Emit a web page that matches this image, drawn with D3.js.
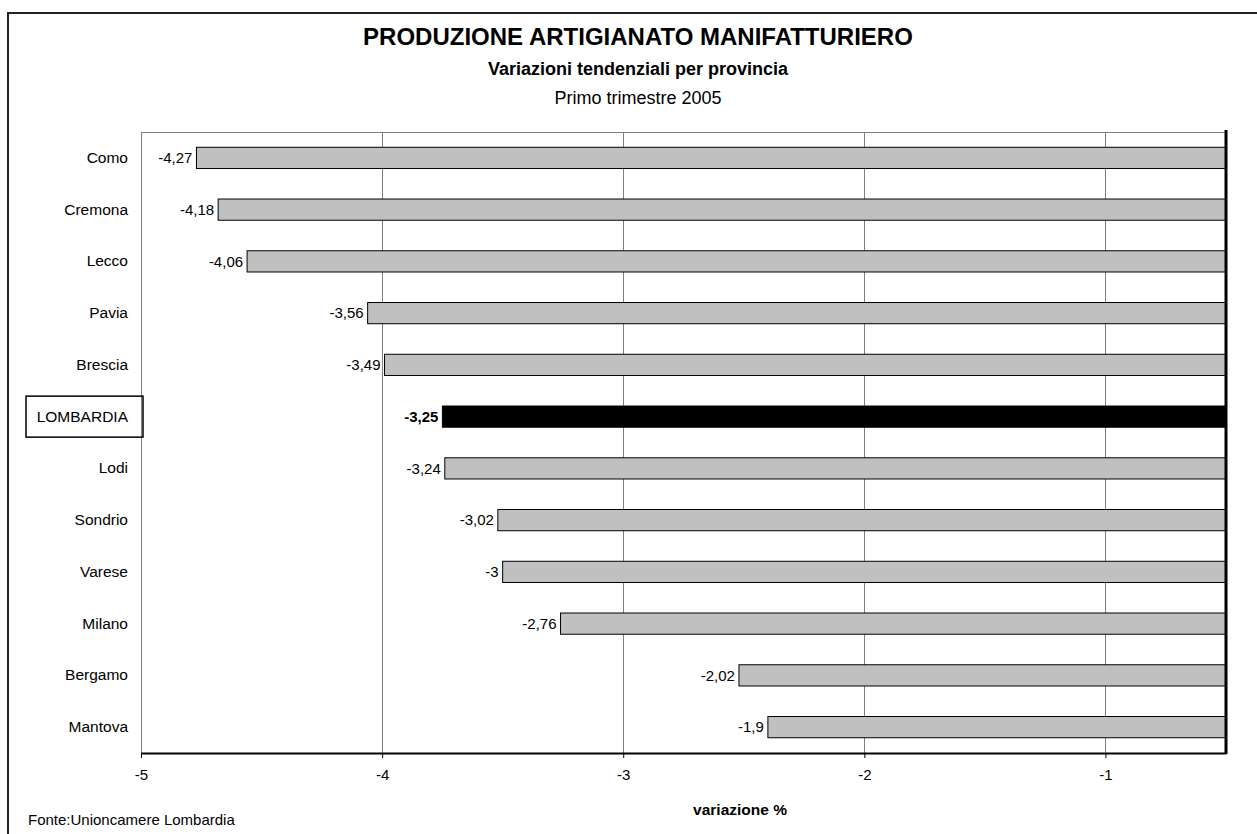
<!DOCTYPE html>
<html>
<head>
<meta charset="utf-8">
<script src="https://cdn.jsdelivr.net/npm/d3@7"></script>
<style>
  body { margin: 0; background: #fff; }
  svg { display: block; font-family: "Liberation Sans", Arial, sans-serif; }
</style>
</head>
<body>
<div id="grafico"></div>
<script>
// Province (dall'alto verso il basso) e variazioni %
const province = ['Como', 'Cremona', 'Lecco', 'Pavia', 'Brescia', 'LOMBARDIA', 'Lodi', 'Sondrio', 'Varese', 'Milano', 'Bergamo', 'Mantova'];
const variazioni = [-4.27, -4.18, -4.06, -3.56, -3.49, -3.25, -3.24, -3.02, -3, -2.76, -2.02, -1.9];
// Tick dell'asse x: nell'originale i valori -4.5 ... -0.5 sono arrotondati a intero
const tickValori = [-4.5, -3.5, -2.5, -1.5, -0.5];
const tickEtichette = ['-5', '-4', '-3', '-2', '-1'];
const totale = 'LOMBARDIA';

const width = 1257;
const height = 834;
const margin = {top: 132, right: 31, bottom: 81, left: 141};
const font = '"Liberation Sans", Arial, sans-serif';

const svg = d3.select('#grafico')
  .append('svg')
  .attr('width', width)
  .attr('height', height);

// cornice esterna
svg.append('rect')
  .attr('x', 8).attr('y', 13)
  .attr('width', width + 20).attr('height', height + 20)
  .attr('fill', 'none')
  .attr('stroke', '#222')
  .attr('stroke-width', 2);

// titoli
const titoli = svg.append('g').attr('text-anchor', 'middle');
titoli.append('text').attr('x', 638).attr('y', 45)
  .attr('font-size', 24).attr('font-weight', 'bold')
  .text('PRODUZIONE ARTIGIANATO MANIFATTURIERO');
titoli.append('text').attr('x', 638).attr('y', 75)
  .attr('font-size', 18).attr('font-weight', 'bold')
  .text('Variazioni tendenziali per provincia');
titoli.append('text').attr('x', 638).attr('y', 104)
  .attr('font-size', 18)
  .text('Primo trimestre 2005');

const x = d3.scaleLinear()
  .domain([-4.5, 0])
  .range([margin.left, width - margin.right]);

const y = d3.scaleBand()
  .domain(province)
  .range([margin.top, height - margin.bottom])
  .paddingInner(0.59)
  .paddingOuter(0.295);

const dati = province.map((p, i) => ({provincia: p, valore: variazioni[i]}));

// bordo area del grafico (sopra) e griglia
svg.append('line')
  .attr('x1', x(-4.5)).attr('x2', x(0))
  .attr('y1', margin.top + 0.5).attr('y2', margin.top + 0.5)
  .attr('stroke', '#808080');
svg.append('g')
  .selectAll('line')
  .data(tickValori)
  .enter()
  .append('line')
  .attr('x1', d => Math.round(x(d)) + 0.5)
  .attr('x2', d => Math.round(x(d)) + 0.5)
  .attr('y1', margin.top)
  .attr('y2', height - margin.bottom)
  .attr('stroke', '#808080');

// barre
svg.append('g')
  .selectAll('rect')
  .data(dati)
  .enter()
  .append('rect')
  .attr('x', d => x(d.valore))
  .attr('y', d => y(d.provincia))
  .attr('width', d => x(0) - x(d.valore))
  .attr('height', y.bandwidth())
  .attr('fill', d => d.provincia === totale ? '#000' : '#c0c0c0')
  .attr('stroke', '#000')
  .attr('stroke-width', 1);

// etichette valori
svg.append('g')
  .selectAll('text')
  .data(dati)
  .enter()
  .append('text')
  .attr('x', d => x(d.valore) - 4)
  .attr('y', d => y(d.provincia) + y.bandwidth() / 2)
  .attr('dy', '0.35em')
  .attr('text-anchor', 'end')
  .attr('font-size', 15)
  .attr('font-weight', d => d.provincia === totale ? 'bold' : 'normal')
  .text(d => String(d.valore).replace('.', ','));

// asse x
const axisX = d3.axisBottom(x)
  .tickValues(tickValori)
  .tickFormat((d, i) => tickEtichette[i])
  .tickSize(5)
  .tickSizeOuter(0);
const gx = svg.append('g')
  .attr('transform', `translate(0,${height - margin.bottom})`)
  .call(axisX);
gx.select('.domain').attr('stroke', '#000').attr('stroke-width', 2);
gx.selectAll('text').attr('font-size', 15).attr('dy', '1.25em').attr('fill', '#000')
  .style('font-family', font);

// asse delle categorie
const axisY = d3.axisLeft(y).tickSize(0).tickPadding(0);
const gy = svg.append('g')
  .attr('transform', `translate(${margin.left - 13},0)`)
  .call(axisY);
gy.select('.domain').remove();
gy.selectAll('text').attr('font-size', 15.5).attr('fill', '#000')
  .style('font-family', font);

// riquadro attorno a LOMBARDIA
svg.append('rect')
  .attr('x', 26)
  .attr('y', y(totale) + y.bandwidth() / 2 - 20.5)
  .attr('width', 117)
  .attr('height', 41)
  .attr('fill', 'none')
  .attr('stroke', '#000')
  .attr('stroke-width', 1.5);

// linea dello zero (spessa, a destra)
svg.append('line')
  .attr('x1', x(0)).attr('x2', x(0))
  .attr('y1', margin.top - 2).attr('y2', height - margin.bottom + 1)
  .attr('stroke', '#000')
  .attr('stroke-width', 3);

// titolo asse e fonte
svg.append('text')
  .attr('x', 740).attr('y', 815)
  .attr('text-anchor', 'middle')
  .attr('font-size', 15.5).attr('font-weight', 'bold')
  .text('variazione %');
svg.append('text')
  .attr('x', 28).attr('y', 825)
  .attr('font-size', 15)
  .text('Fonte:Unioncamere Lombardia');
</script>
</body>
</html>
